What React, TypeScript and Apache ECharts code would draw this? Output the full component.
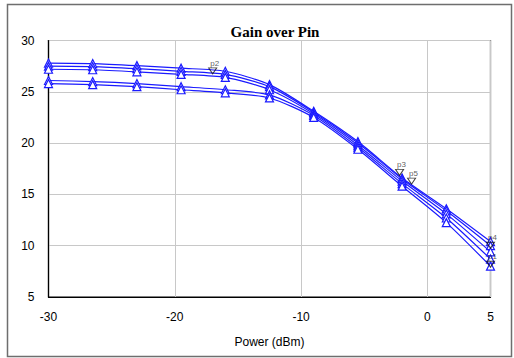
import React, { useEffect, useRef } from "react";
import * as echarts from "echarts";

// Input power sweep (dBm)
const pinValues = [-30, -26.5, -23, -19.5, -16, -12.5, -9, -5.5, -2, 1.5, 5];

// Gain curves (dB)
const gainCurve1 = [27.8, 27.75, 27.55, 27.3, 27.0, 25.7, 23.1, 20.15, 16.6, 13.6, 10.4];
const gainCurve2 = [27.5, 27.45, 27.25, 27.0, 26.7, 25.5, 23.0, 20.0, 16.5, 13.4, 10.0];
const gainCurve3 = [27.2, 27.15, 26.95, 26.7, 26.4, 25.2, 22.85, 19.8, 16.3, 13.1, 9.4];
const gainCurve4 = [26.1, 26.0, 25.8, 25.5, 25.2, 24.7, 22.7, 19.6, 16.05, 12.7, 8.7];
const gainCurve5 = [25.8, 25.7, 25.5, 25.2, 24.9, 24.4, 22.5, 19.4, 15.8, 12.25, 8.0];
const gainCurves = [gainCurve1, gainCurve2, gainCurve3, gainCurve4, gainCurve5];

// Marker points
const markerNames = ["p1", "p2", "p3", "p4", "p5"];
const markerX = [5, -17, -2.2, 5, -1.25];
const markerY = [7.9, 26.75, 16.85, 9.75, 16.0];

// Axis ticks
const xMin = -30;
const xMax = 5;
const xStep = 10;
const yMin = 5;
const yMax = 30;
const yStep = 5;

export default function App() {
  const ref = useRef<HTMLDivElement>(null);

  useEffect(() => {
    if (!ref.current) return;
    const chart = echarts.init(ref.current, null, { renderer: "svg" });

    const lineSeries = gainCurves.map((curve, i) => ({
      type: "line",
      name: "curve" + (i + 1),
      data: pinValues.map((x, j) => [x, curve[j]]),
      smooth: 0.25,
      symbol: "triangle",
      symbolSize: 8,
      showAllSymbol: true,
      lineStyle: { color: "#1a1aff", width: 1.2 },
      itemStyle: { color: "#ffffff", borderColor: "#1a1aff", borderWidth: 1.2 },
      z: 3,
    }));

    const markerSeries = {
      type: "scatter",
      data: markerNames.map((n, i) => ({ name: n, value: [markerX[i], markerY[i]] })),
      symbol: "path://M0,0 L10,0 L5,9 Z",
      symbolSize: [8, 6],
      symbolOffset: [0, -3],
      itemStyle: { color: "rgba(255,255,255,0)", borderColor: "#111", borderWidth: 1 },
      label: {
        show: true,
        formatter: "{b}",
        position: "top",
        distance: 0,
        offset: [2, 0],
        fontSize: 8,
        fontFamily: "Liberation Sans, Arial, sans-serif",
        color: "#333",
      },
      z: 5,
    };

    chart.setOption({
      animation: false,
      backgroundColor: "#ffffff",
      title: {
        text: "Gain over Pin",
        left: 270,
        top: 19,
        textAlign: "center",
        textStyle: {
          fontFamily: "Liberation Serif, Times New Roman, serif",
          fontWeight: "bold",
          fontSize: 15,
          color: "#000",
        },
      },
      graphic: [
        {
          type: "rect",
          shape: { x: 7.5, y: 4.5, width: 504, height: 352 },
          style: { fill: "none", stroke: "#6e6e6e", lineWidth: 1.5 },
          silent: true,
        },
      ],
      grid: {
        left: 48.5,
        right: 23.5,
        top: 40.5,
        bottom: 61,
        show: true,
        borderColor: "#000",
        borderWidth: 1.2,
      },
      xAxis: {
        type: "value",
        min: xMin,
        max: xMax,
        interval: xStep,
        name: "Power (dBm)",
        nameLocation: "middle",
        nameGap: 39,
        nameTextStyle: { fontFamily: "Liberation Sans, Arial, sans-serif", fontSize: 12, color: "#000" },
        axisLine: { show: true, onZero: false, lineStyle: { color: "#000", width: 1.2 } },
        axisTick: { show: false },
        axisLabel: {
          margin: 14,
          fontFamily: "Liberation Sans, Arial, sans-serif",
          fontSize: 12,
          color: "#000",
          showMaxLabel: true,
        },
        splitLine: { show: true, lineStyle: { color: "#c8c8c8", width: 1 } },
      },
      yAxis: {
        type: "value",
        min: yMin,
        max: yMax,
        interval: yStep,
        axisLine: { show: true, onZero: false, lineStyle: { color: "#000", width: 1.2 } },
        axisTick: { show: false },
        axisLabel: {
          margin: 14,
          fontFamily: "Liberation Sans, Arial, sans-serif",
          fontSize: 12,
          color: "#000",
        },
        splitLine: { show: true, lineStyle: { color: "#c8c8c8", width: 1 } },
      },
      series: [...lineSeries, markerSeries],
    });

    return () => chart.dispose();
  }, []);

  return (
    <div
      ref={ref}
      style={{ position: "fixed", left: 0, top: 0, width: 514, height: 358, background: "#fff" }}
    />
  );
}
